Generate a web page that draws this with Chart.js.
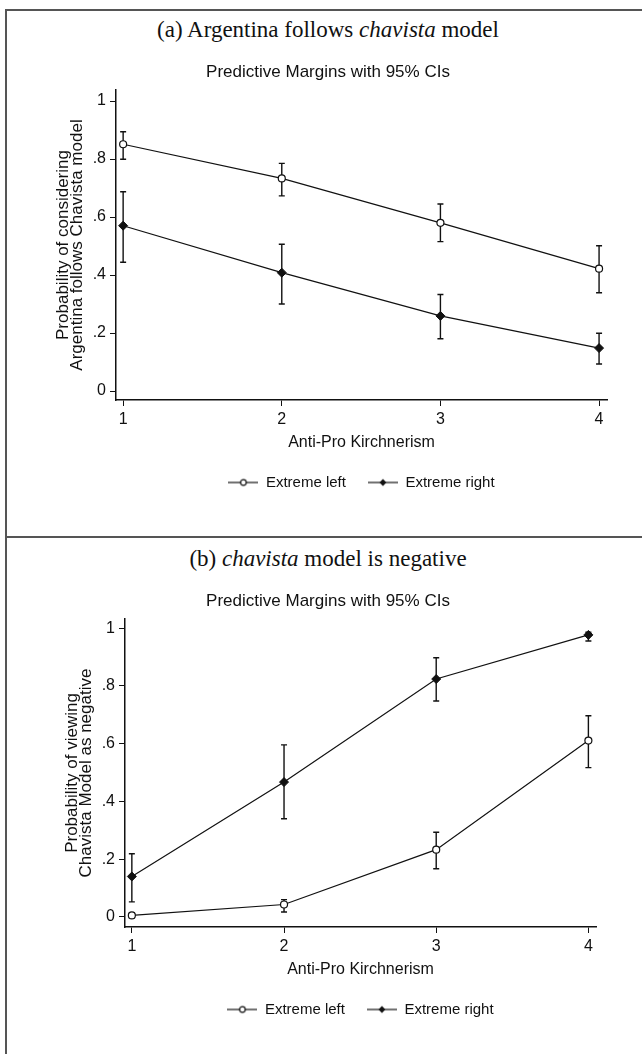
<!DOCTYPE html>
<html>
<head>
<meta charset="utf-8">
<script src="https://cdn.jsdelivr.net/npm/chart.js@4"></script>
<style>
  html, body { margin: 0; padding: 0; background: #fff; overflow: hidden; }
  body { position: relative; width: 642px; height: 1054px; }
  #frame { position: absolute; left: 5px; top: 9px; width: 652px; height: 1100px; border: 2px solid #555; box-sizing: border-box; }
  #divider { position: absolute; left: 5px; top: 536px; width: 652px; height: 2px; background: #555; }
  .ptitle { position: absolute; left: 6px; width: 644px; text-align: center; font-family: 'Liberation Serif', 'Times New Roman', serif; font-size: 23px; line-height: 26px; color: #111; }
  canvas { position: absolute; left: 6px; }
</style>
</head>
<body>
<div id="frame"></div>
<div id="divider"></div>
<div class="ptitle" style="top:17px">(a) Argentina follows <i>chavista</i> model</div>
<canvas id="chartA" width="644" height="526" style="top:11px"></canvas>
<div class="ptitle" style="top:546px">(b) <i>chavista</i> model is negative</div>
<canvas id="chartB" width="644" height="515" style="top:539px"></canvas>
<script>
var xLevels = [1, 2, 3, 4];
var yTickValues = [0, 0.2, 0.4, 0.6, 0.8, 1];
var seriesNames = ['Extreme left', 'Extreme right'];

// (a) Argentina follows chavista model
var leftA = [0.851, 0.733, 0.580, 0.422];
var leftALow = [0.799, 0.673, 0.515, 0.339];
var leftAHigh = [0.894, 0.785, 0.645, 0.501];
var rightA = [0.570, 0.408, 0.259, 0.148];
var rightALow = [0.444, 0.300, 0.180, 0.093];
var rightAHigh = [0.687, 0.506, 0.333, 0.199];

// (b) chavista model is negative
var leftB = [0.005, 0.043, 0.233, 0.611];
var leftBLow = [-0.003, 0.017, 0.167, 0.517];
var leftBHigh = [0.013, 0.060, 0.293, 0.697];
var rightB = [0.140, 0.467, 0.824, 0.977];
var rightBLow = [0.052, 0.340, 0.748, 0.956];
var rightBHigh = [0.219, 0.596, 0.898, 0.986];

var ink = '#111';
var narrow = "'Liberation Sans Narrow', 'Arial Narrow', 'Liberation Sans', sans-serif";
var plain = "'Liberation Sans', Arial, sans-serif";

function fmtTick(v) {
  if (v === 0) return '0';
  if (v === 1) return '1';
  return String(Math.round(v * 10) / 10).replace(/^0/, '');
}

function pts(values) {
  return xLevels.map(function (x, i) { return { x: x, y: values[i] }; });
}

// little "—o—" images for the legend keys
function legendIcon(filled) {
  var c = document.createElement('canvas');
  c.width = 30;
  c.height = 10;
  var g = c.getContext('2d');
  g.strokeStyle = ink;
  g.lineWidth = 1.2;
  g.beginPath();
  g.moveTo(0, 5);
  g.lineTo(30, 5);
  g.stroke();
  g.beginPath();
  if (filled) {
    g.moveTo(15, 1.5); g.lineTo(18.5, 5); g.lineTo(15, 8.5); g.lineTo(11.5, 5); g.closePath();
    g.fillStyle = ink;
    g.fill();
  } else {
    g.arc(15, 5, 2.8, 0, Math.PI * 2);
    g.fillStyle = '#fff';
    g.fill();
    g.stroke();
  }
  return c;
}
var legendIcons = [legendIcon(false), legendIcon(true)];

function errorBars(lows, highs) {
  return {
    id: 'errorBars',
    beforeDatasetsDraw: function (chart) {
      var ctx = chart.ctx;
      var xs = chart.scales.x;
      var ys = chart.scales.y;
      ctx.save();
      ctx.strokeStyle = ink;
      ctx.lineWidth = 1.4;
      lows.forEach(function (low, k) {
        low.forEach(function (lo, i) {
          var x = xs.getPixelForValue(xLevels[i]);
          var y1 = ys.getPixelForValue(lo);
          var y2 = ys.getPixelForValue(highs[k][i]);
          ctx.beginPath();
          ctx.moveTo(x, y1); ctx.lineTo(x, y2);
          ctx.moveTo(x - 3, y1); ctx.lineTo(x + 3, y1);
          ctx.moveTo(x - 3, y2); ctx.lineTo(x + 3, y2);
          ctx.stroke();
        });
      });
      ctx.restore();
    }
  };
}

function makePanel(id, p) {
  var axisGrid = { drawOnChartArea: false, drawTicks: true, tickLength: 6, color: ink, lineWidth: 1 };
  var axisBorder = { color: ink, width: 1.5 };
  return new Chart(document.getElementById(id), {
    type: 'line',
    data: {
      datasets: [
        {
          label: seriesNames[0],
          data: pts(p.left),
          borderColor: ink,
          borderWidth: 1.2,
          pointStyle: 'circle',
          pointRadius: 3.5,
          pointBackgroundColor: '#fff',
          pointBorderColor: ink,
          pointBorderWidth: 1.2
        },
        {
          label: seriesNames[1],
          data: pts(p.right),
          borderColor: ink,
          borderWidth: 1.2,
          pointStyle: 'rectRot',
          pointRadius: 4.5,
          pointBackgroundColor: ink,
          pointBorderColor: ink,
          pointBorderWidth: 1
        }
      ]
    },
    options: {
      responsive: false,
      animation: false,
      events: [],
      layout: { padding: { left: p.side, right: p.side, top: 0, bottom: p.padBottom } },
      plugins: {
        title: {
          display: true,
          text: 'Predictive Margins with 95% CIs',
          color: ink,
          font: { family: narrow, size: 17, weight: 'normal', lineHeight: 1.2 },
          padding: { top: p.titleTop, bottom: p.titleBottom }
        },
        legend: {
          position: 'bottom',
          fullSize: false,
          labels: {
            usePointStyle: true,
            pointStyleWidth: 30,
            padding: 22,
            color: ink,
            font: { family: narrow, size: 15 },
            generateLabels: function (chart) {
              var items = Chart.defaults.plugins.legend.labels.generateLabels(chart);
              items.forEach(function (it, i) { it.pointStyle = legendIcons[i]; });
              return items;
            }
          }
        },
        tooltip: { enabled: false }
      },
      scales: {
        x: {
          type: 'linear',
          min: 0.955,
          max: 4.05,
          afterBuildTicks: function (s) { s.ticks = xLevels.map(function (v) { return { value: v }; }); },
          afterFit: function (s) { s.height = 53; },
          grid: axisGrid,
          border: axisBorder,
          ticks: { color: ink, padding: 4, font: { family: narrow, size: 16 }, callback: function (v) { return String(v); } },
          title: { display: true, text: 'Anti-Pro Kirchnerism', color: ink, font: { family: narrow, size: 16 }, padding: { top: 0, bottom: 1 } }
        },
        y: {
          min: p.yMin,
          max: p.yMax,
          afterBuildTicks: function (s) { s.ticks = yTickValues.map(function (v) { return { value: v }; }); },
          afterFit: function (s) { s.width = p.yWidth; },
          grid: axisGrid,
          border: axisBorder,
          ticks: { color: ink, padding: 4, font: { family: narrow, size: 16 }, callback: fmtTick },
          title: { display: true, text: p.yTitle, color: ink, font: { family: plain, size: 17, lineHeight: 0.85 }, padding: { top: p.yTitlePad, bottom: 0 } }
        }
      }
    },
    plugins: [errorBars([p.leftLow, p.rightLow], [p.leftHigh, p.rightHigh])]
  });
}

makePanel('chartA', {
  left: leftA, leftLow: leftALow, leftHigh: leftAHigh,
  right: rightA, rightLow: rightALow, rightHigh: rightAHigh,
  yTitle: ['Probability of considering', 'Argentina follows Chavista model'],
  yMin: -0.031, yMax: 1.038,
  side: 43, yWidth: 67, yTitlePad: 6.8,
  titleTop: 50.8, titleBottom: 7.8, padBottom: 37
});

makePanel('chartB', {
  left: leftB, leftLow: leftBLow, leftHigh: leftBHigh,
  right: rightB, rightLow: rightBLow, rightHigh: rightBHigh,
  yTitle: ['Probability of viewing', 'Chavista Model as negative'],
  yMin: -0.035, yMax: 1.032,
  side: 54, yWidth: 65, yTitlePad: 4.8,
  titleTop: 51.8, titleBottom: 7.8, padBottom: 27
});
</script>
</body>
</html>
